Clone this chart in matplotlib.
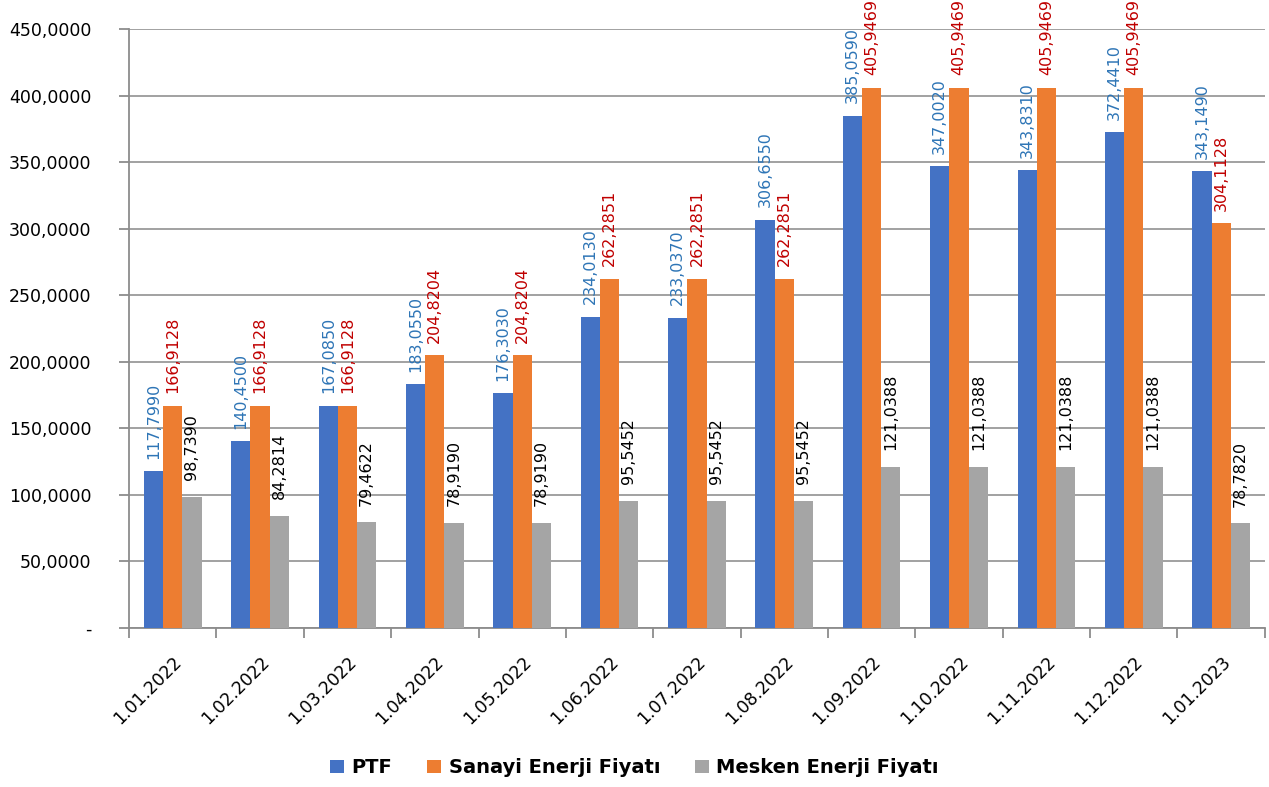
import matplotlib
matplotlib.use("Agg")
import matplotlib.pyplot as plt
import numpy as np

# data
dates = ["1.01.2022", "1.02.2022", "1.03.2022", "1.04.2022", "1.05.2022",
	"1.06.2022", "1.07.2022", "1.08.2022", "1.09.2022", "1.10.2022",
	"1.11.2022", "1.12.2022", "1.01.2023"]
ptf = [117.7990, 140.4500, 167.0850, 183.0550, 176.3030, 234.0130, 233.0370,
	306.6550, 385.0590, 347.0020, 343.8310, 372.4410, 343.1490]
sanayi = [166.9128, 166.9128, 166.9128, 204.8204, 204.8204, 262.2851, 262.2851,
	262.2851, 405.9469, 405.9469, 405.9469, 405.9469, 304.1128]
mesken = [98.7390, 84.2814, 79.4622, 78.9190, 78.9190, 95.5452, 95.5452,
	95.5452, 121.0388, 121.0388, 121.0388, 121.0388, 78.7820]
series_names = ["PTF", "Sanayi Enerji Fiyatı", "Mesken Enerji Fiyatı"]
yticks = [0, 50, 100, 150, 200, 250, 300, 350, 400, 450]

bar_colors = ["#4472C4", "#ED7D31", "#A5A5A5"]
label_colors = ["#2E75B6", "#C00000", "#000000"]

def fmt(v):
	return "{:.4f}".format(v).replace(".", ",")

fig = plt.figure(figsize=(12.69, 7.87), dpi=100)
ax = fig.add_axes([0.1017, 0.202, 0.895, 0.761])

x = np.arange(len(dates))
w = 0.22
for i, vals in enumerate([ptf, sanayi, mesken]):
	bars = ax.bar(x + (i - 1) * w, vals, w, color=bar_colors[i],
		label=series_names[i], zorder=3)
	pad = 12 if i == 2 else 9
	for b, v in zip(bars, vals):
		ax.annotate(fmt(v), (b.get_x() + b.get_width() / 2, v),
			xytext=(0, pad), textcoords="offset points", rotation=90,
			ha="center", va="bottom", fontsize=11.5, color=label_colors[i],
			zorder=4)

ax.set_xlim(-0.5, len(dates) - 0.5)
ax.set_ylim(0, 450)
ax.set_yticks(yticks)
ax.set_yticklabels(["-" if t == 0 else fmt(t) for t in yticks], fontsize=12.5)
ax.grid(axis="y", color="#9A9A9A", linewidth=1.3, zorder=0)

ax.set_xticks(x)
ax.set_xticklabels(dates, rotation=45, ha="right", rotation_mode="anchor",
	fontsize=12.5)
ax.tick_params(axis="x", which="major", length=0, pad=18)
ax.set_xticks(np.arange(len(dates) + 1) - 0.5, minor=True)
ax.tick_params(axis="x", which="minor", length=7, color="#8C8C8C", width=1.3)
ax.tick_params(axis="y", length=7, color="#8C8C8C", width=1.3, pad=20)

for s in ["top", "right"]:
	ax.spines[s].set_visible(False)
for s in ["left", "bottom"]:
	ax.spines[s].set_color("#8C8C8C")
	ax.spines[s].set_linewidth(1.3)

fig.legend(loc="lower center", bbox_to_anchor=(0.5, -0.01), ncol=3,
	frameon=False, prop={"weight": "bold", "size": 14}, handlelength=0.7,
	handleheight=0.7, columnspacing=1.8, handletextpad=0.4)

plt.savefig("out.png", dpi=100)
